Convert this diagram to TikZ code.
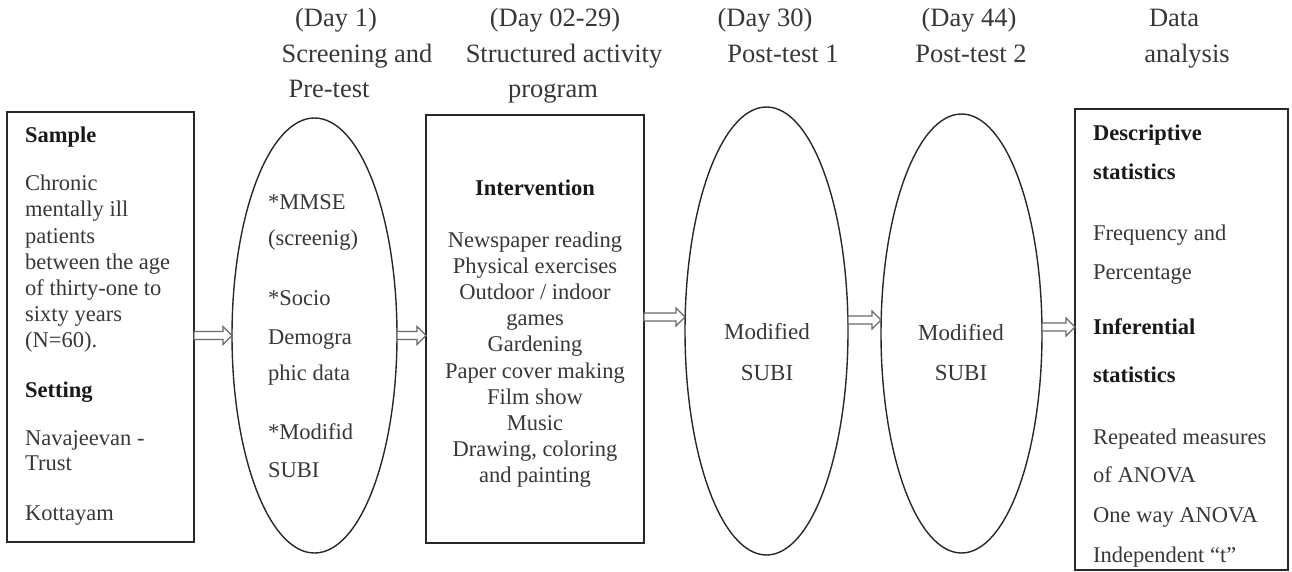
\documentclass[tikz,border=0pt]{standalone}
\usepackage{fontspec}
\setmainfont{Liberation Serif}
\usetikzlibrary{shapes.geometric,calc}
\definecolor{txt}{RGB}{55,55,55}
\definecolor{bld}{RGB}{25,25,25}
\definecolor{edge}{RGB}{40,40,40}
\definecolor{arr}{RGB}{105,105,105}
\newcommand{\hbold}[1]{{\color{bld}\bfseries #1}}
\begin{document}
\begin{tikzpicture}[x=1pt,y=-1pt,
  box/.style={draw=edge, line width=1.6pt, rectangle, inner sep=0pt, outer sep=0pt},
  oval/.style={draw=edge, line width=1.4pt, ellipse, inner sep=0pt, outer sep=0pt},
  hd/.style={anchor=base, inner sep=0pt, text=txt, font=\fontsize{26.5pt}{30pt}\selectfont},
  tl/.style={anchor=mid west, yshift=-3pt, inner sep=0pt, text=txt, font=\fontsize{22.5pt}{26pt}\selectfont},
  tc/.style={anchor=mid, yshift=-3pt, inner sep=0pt, text=txt, font=\fontsize{22.5pt}{26pt}\selectfont},
  tm/.style={anchor=mid, yshift=-3pt, inner sep=0pt, text=txt, font=\fontsize{23pt}{26pt}\selectfont},
  flow/.style={draw=arr, line width=1.1pt, fill=white,
    to path={let \p1=(\tikztostart), \p2=(\tikztotarget) in
      (\x1,\y1+4pt) -- (\x2-9pt,\y1+4pt) -- (\x2-9pt,\y1+9pt) -- (\x2,\y1)
      -- (\x2-9pt,\y1-9pt) -- (\x2-9pt,\y1-4pt) -- (\x1,\y1-4pt) -- cycle}}
]
\useasboundingbox (0,0) rectangle (1292,572);

% headers
\node[hd] (h1a) at (336,27) {(Day 1)};
\node[hd] (h1b) at (357,63) {Screening and};
\node[hd] (h1c) at (329,98) {Pre-test};
\node[hd] (h2a) at (555,27) {(Day 02-29)};
\node[hd] (h2b) at (564,63) {Structured activity};
\node[hd] (h2c) at (553,98) {program};
\node[hd] (h3a) at (765,27) {(Day 30)};
\node[hd] (h3b) at (783,63) {Post-test 1};
\node[hd] (h4a) at (969,27) {(Day 44)};
\node[hd] (h4b) at (971,63) {Post-test 2};
\node[hd] (h5a) at (1174,27) {Data};
\node[hd] (h5b) at (1187,63) {analysis};

% shapes
\node[box, minimum width=187pt, minimum height=430pt] (b1) at (100.5,327) {};
\node[oval, minimum width=165pt, minimum height=435pt] (e1) at (314.5,335.5) {};
\node[box, minimum width=218pt, minimum height=428pt] (b2) at (535,329) {};
\node[oval, minimum width=163pt, minimum height=448pt] (e2) at (766.5,331) {};
\node[oval, minimum width=161pt, minimum height=439pt] (e3) at (961.5,333.5) {};
\node[box, minimum width=213pt, minimum height=461pt] (b3) at (1181.5,339.5) {};

% box 1 text
\node[tl] (s1) at (25,137) {\hbold{Sample}};
\node[tl] (s2) at (25,185) {Chronic};
\node[tl] (s3) at (25,211) {mentally ill};
\node[tl] (s4) at (25,238) {patients};
\node[tl] (s5) at (25,264) {between the age};
\node[tl] (s6) at (25,290) {of thirty-one to};
\node[tl] (s7) at (25,316) {sixty years};
\node[tl] (s8) at (25,342) {(N=60).};
\node[tl] (s9) at (25,392) {\hbold{Setting}};
\node[tl] (s10) at (25,440) {Navajeevan -};
\node[tl] (s11) at (25,465) {Trust};
\node[tl] (s12) at (25,515) {Kottayam};

% ellipse 1 text
\node[tl] (p1) at (268,204) {*MMSE};
\node[tl] (p2) at (268,240) {(screenig)};
\node[tl] (p3) at (268,300) {*Socio};
\node[tl] (p4) at (268,339) {Demogra};
\node[tl] (p5) at (268,375) {phic data};
\node[tl] (p6) at (268,434) {*Modifid};
\node[tl] (p7) at (268,472) {SUBI};

% box 2 text
\node[tc] (i1) at (535,190) {\hbold{Intervention}};
\node[tc] (i2) at (535,242) {Newspaper reading};
\node[tc] (i3) at (535,268) {Physical exercises};
\node[tc] (i4) at (535,294) {Outdoor / indoor};
\node[tc] (i5) at (535,320) {games};
\node[tc] (i6) at (535,346) {Gardening};
\node[tc] (i7) at (535,373) {Paper cover making};
\node[tc] (i8) at (535,399) {Film show};
\node[tc] (i9) at (535,425) {Music};
\node[tc] (i10) at (535,451) {Drawing, coloring};
\node[tc] (i11) at (535,477) {and painting};

% ellipses 2, 3 text
\node[tm] (m1) at (767,334) {Modified};
\node[tm] (m2) at (767,375) {SUBI};
\node[tm] (n1) at (961,335) {Modified};
\node[tm] (n2) at (961,375) {SUBI};

% box 3 text
\node[tl] (d1) at (1093,135) {\hbold{Descriptive}};
\node[tl] (d2) at (1093,174) {\hbold{statistics}};
\node[tl] (d3) at (1093,235) {Frequency and};
\node[tl] (d4) at (1093,274) {Percentage};
\node[tl] (d5) at (1093,329) {\hbold{Inferential}};
\node[tl] (d6) at (1093,377) {\hbold{statistics}};
\node[tl] (d7) at (1093,439) {Repeated measures};
\node[tl] (d8) at (1093,477) {of ANOVA};
\node[tl] (d9) at (1093,517) {One way ANOVA};
\node[tl] (d10) at (1093,557) {Independent ``t''};

% connectors
\coordinate (a1) at (b1.east |- e1.west);
\coordinate (a3) at ([yshift=12pt]b2.east);
\coordinate (a4) at ([yshift=11pt]e2.east);
\coordinate (a5) at ([yshift=6.5pt]e3.east);
\draw[flow] (a1) to (e1.west);
\draw[flow] (e1.east) to (e1.east -| b2.west);
\draw[flow] (a3) to (a3 -| e2.west);
\draw[flow] (a4) to (a4 -| e3.west);
\draw[flow] (a5) to (a5 -| b3.west);
\end{tikzpicture}
\end{document}
